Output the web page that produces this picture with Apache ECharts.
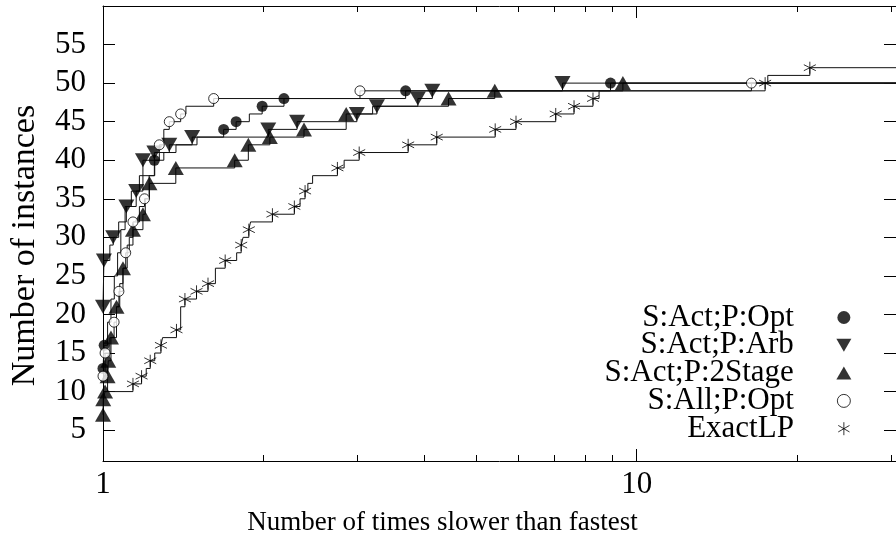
<!DOCTYPE html>
<html>
<head>
<meta charset="utf-8">
<script src="https://cdn.jsdelivr.net/npm/echarts@6/dist/echarts.min.js"></script>
<style>
  html, body { margin: 0; padding: 0; background: #fff; }
  #main { width: 896px; height: 548px; }
</style>
</head>
<body>
<div id="main"></div>
<script>
// axis ranges / ticks
var xMin = 1, xMax = 30.6;
var yMin = 1, yMax = 60;
var xMajorTicks = [1, 10];
var xMinorTicks = [2, 3, 4, 5, 6, 7, 8, 9, 20, 30];
var yTicks = [5, 10, 15, 20, 25, 30, 35, 40, 45, 50, 55];

var names = ["S:Act;P:Opt", "S:Act;P:Arb", "S:Act;P:2Stage", "S:All;P:Opt", "ExactLP"];

// step curves [ratio, instances]
var optSteps = [[1,13],[1.005,16],[1.02,19],[1.035,22],[1.05,25],[1.065,28],[1.08,31],[1.1,34],[1.13,36],[1.17,38],[1.248,40],[1.3,41],[1.37,42],[1.5,43],[1.683,44],[1.776,45],[1.88,46],[1.987,47],[2.183,48],[3.69,49],[8.93,50]];
var arbSteps = [[1,21],[1.004,27],[1.03,29],[1.045,30],[1.07,32],[1.106,34],[1.154,36],[1.188,40],[1.248,41],[1.331,42],[1.469,43],[2.04,44],[2.31,45],[2.99,46],[3.26,47],[3.89,48],[4.14,49],[7.26,50]];
var twoStageSteps = [[1,7],[1.001,9],[1.009,10],[1.02,12],[1.023,14],[1.035,17],[1.06,21],[1.075,24],[1.09,26],[1.11,29],[1.138,31],[1.188,33],[1.2,35],[1.222,37],[1.369,39],[1.765,40],[1.872,42],[2.054,43],[2.38,44],[2.855,46],[3.2,47],[4.44,48],[5.42,49],[9.42,50]];
var allSteps = [[1,12],[1.009,15],[1.03,17],[1.049,19],[1.06,21],[1.071,23],[1.09,26],[1.103,28],[1.12,30],[1.138,32],[1.17,34],[1.196,35],[1.22,38],[1.25,40],[1.275,42],[1.3,44],[1.331,45],[1.398,46],[1.43,47],[1.612,48],[3.03,49],[16.4,50]];
var exactSteps = [[1,10],[1.138,11],[1.181,12],[1.205,13],[1.226,14],[1.25,15],[1.284,16],[1.293,17],[1.373,18],[1.398,21],[1.424,22],[1.497,23],[1.573,24],[1.624,26],[1.694,27],[1.78,28],[1.815,29],[1.83,30],[1.876,31],[1.89,32],[2.077,33],[2.283,34],[2.34,35],[2.391,36],[2.42,37],[2.47,38],[2.749,39],[2.83,40],[3.02,41],[3.73,42],[4.22,43],[5.43,44],[5.94,45],[7.05,46],[7.63,47],[8.28,48],[8.5,49],[17.4,50],[17.6,51],[21.1,52]];

// points drawn with markers
var optPts = [[1,13],[1.005,16],[1.248,40],[1.683,44],[1.776,45],[1.987,47],[2.183,48],[3.69,49],[8.93,50]];
var arbPts = [[1,21],[1.004,27],[1.045,30],[1.106,34],[1.154,36],[1.188,40],[1.248,41],[1.331,42],[1.469,43],[2.04,44],[2.31,45],[2.99,46],[3.26,47],[3.89,48],[4.14,49],[7.26,50]];
var twoStagePts = [[1,7],[1.001,9],[1.009,10],[1.02,12],[1.023,14],[1.035,17],[1.06,21],[1.09,26],[1.138,31],[1.188,33],[1.222,37],[1.369,39],[1.765,40],[1.872,42],[2.054,43],[2.38,44],[2.855,46],[4.44,48],[5.42,49],[9.42,50]];
var allPts = [[1,12],[1.009,15],[1.049,19],[1.071,23],[1.103,28],[1.138,32],[1.196,35],[1.275,42],[1.331,45],[1.398,46],[1.612,48],[3.03,49],[16.4,50]];
var exactPts = [[1.138,11],[1.181,12],[1.226,14],[1.284,16],[1.373,18],[1.424,22],[1.497,23],[1.573,24],[1.694,27],[1.815,29],[1.876,31],[2.077,33],[2.283,34],[2.391,36],[2.749,39],[3.02,41],[3.73,42],[4.22,43],[5.43,44],[5.94,45],[7.05,46],[7.63,47],[8.28,48],[17.4,50],[21.1,52]];

var font = "Liberation Serif";
var downTri = "path://M0,0L10,0L5,8.66Z";
var upTri = "path://M5,0L10,8.66L0,8.66Z";
var star = "path://M5,0L5,10M0.67,2.5L9.33,7.5M0.67,7.5L9.33,2.5";

function stepSeries(steps) {
	var d = steps.slice();
	d.push([xMax, steps[steps.length - 1][1]]);
	return {
		type: "line", step: "end", data: d,
		symbol: "none", silent: true, z: 2,
		lineStyle: { color: "#111", width: 1 }
	};
}

function markSeries(name, pts, symbol, size, style) {
	return {
		name: name, type: "scatter", data: pts,
		symbol: symbol, symbolSize: size, z: 3, silent: true,
		itemStyle: style
	};
}

function xAx(pos, ticks, len, showLine, showLabel) {
	return {
		type: "log", logBase: 10, min: xMin, max: xMax, position: pos,
		axisLine: { show: showLine, lineStyle: { color: "#000", width: 1 } },
		axisTick: { show: true, inside: true, length: len, customValues: ticks,
			lineStyle: { color: "#000", width: 1 } },
		axisLabel: { show: showLabel, customValues: ticks, margin: 8,
			color: "#000", fontFamily: font, fontSize: 31 },
		splitLine: { show: false }, minorTick: { show: false }
	};
}

var chart = echarts.init(document.getElementById("main"));

var xBottom = xAx("bottom", xMajorTicks, 12, true, true);
xBottom.name = "Number of times slower than fastest";
xBottom.nameLocation = "middle";
xBottom.nameGap = 48;
xBottom.nameTextStyle = { color: "#000", fontFamily: font, fontSize: 27, padding: [0, 114, 0, 0] };

var option = {
	animation: false,
	backgroundColor: "#fff",
	grid: { left: 103, top: 6, width: 802, height: 455 },
	xAxis: [
		xBottom,
		xAx("bottom", xMinorTicks, 6, false, false),
		xAx("top", xMajorTicks, 12, true, false),
		xAx("top", xMinorTicks, 6, false, false)
	],
	yAxis: [
		{
			type: "value", min: yMin, max: yMax, position: "left",
			name: "Number of instances", nameLocation: "middle", nameGap: 61,
			nameTextStyle: { color: "#000", fontFamily: font, fontSize: 34, padding: [0, 24, 0, 0] },
			axisLine: { show: true, lineStyle: { color: "#000", width: 1 } },
			axisTick: { inside: true, length: 12, customValues: yTicks, lineStyle: { color: "#000" } },
			axisLabel: { customValues: yTicks, margin: 17, color: "#000", fontFamily: font, fontSize: 31 },
			splitLine: { show: false }
		},
		{
			type: "value", min: yMin, max: yMax, position: "right",
			axisLine: { show: true, lineStyle: { color: "#000", width: 1 } },
			axisTick: { inside: true, length: 12, customValues: yTicks, lineStyle: { color: "#000" } },
			axisLabel: { show: false },
			splitLine: { show: false }
		}
	],
	legend: {
		orient: "vertical", right: 39, top: 297, align: "right",
		itemWidth: 90, itemHeight: 13, itemGap: -3.2,
		textStyle: { color: "#000", fontFamily: font, fontSize: 31 },
		data: [
			{ name: names[0] },
			{ name: names[1] },
			{ name: names[2] },
			{ name: names[3], itemStyle: { borderWidth: 1 } },
			{ name: names[4], itemStyle: { borderWidth: 1 } }
		],
		selectedMode: false
	},
	series: [
		stepSeries(optSteps),
		stepSeries(arbSteps),
		stepSeries(twoStageSteps),
		stepSeries(allSteps),
		stepSeries(exactSteps),
		markSeries(names[0], optPts, "circle", 11, { color: "#000" }),
		markSeries(names[1], arbPts, downTri, [16, 14], { color: "#000" }),
		markSeries(names[2], twoStagePts, upTri, [16, 14], { color: "#000" }),
		markSeries(names[3], allPts, "circle", 10, { color: "#fff", borderColor: "#000", borderWidth: 1 }),
		markSeries(names[4], exactPts, star, 12, { color: "none", borderColor: "#000", borderWidth: 1 })
	]
};

chart.setOption(option);
</script>
</body>
</html>
